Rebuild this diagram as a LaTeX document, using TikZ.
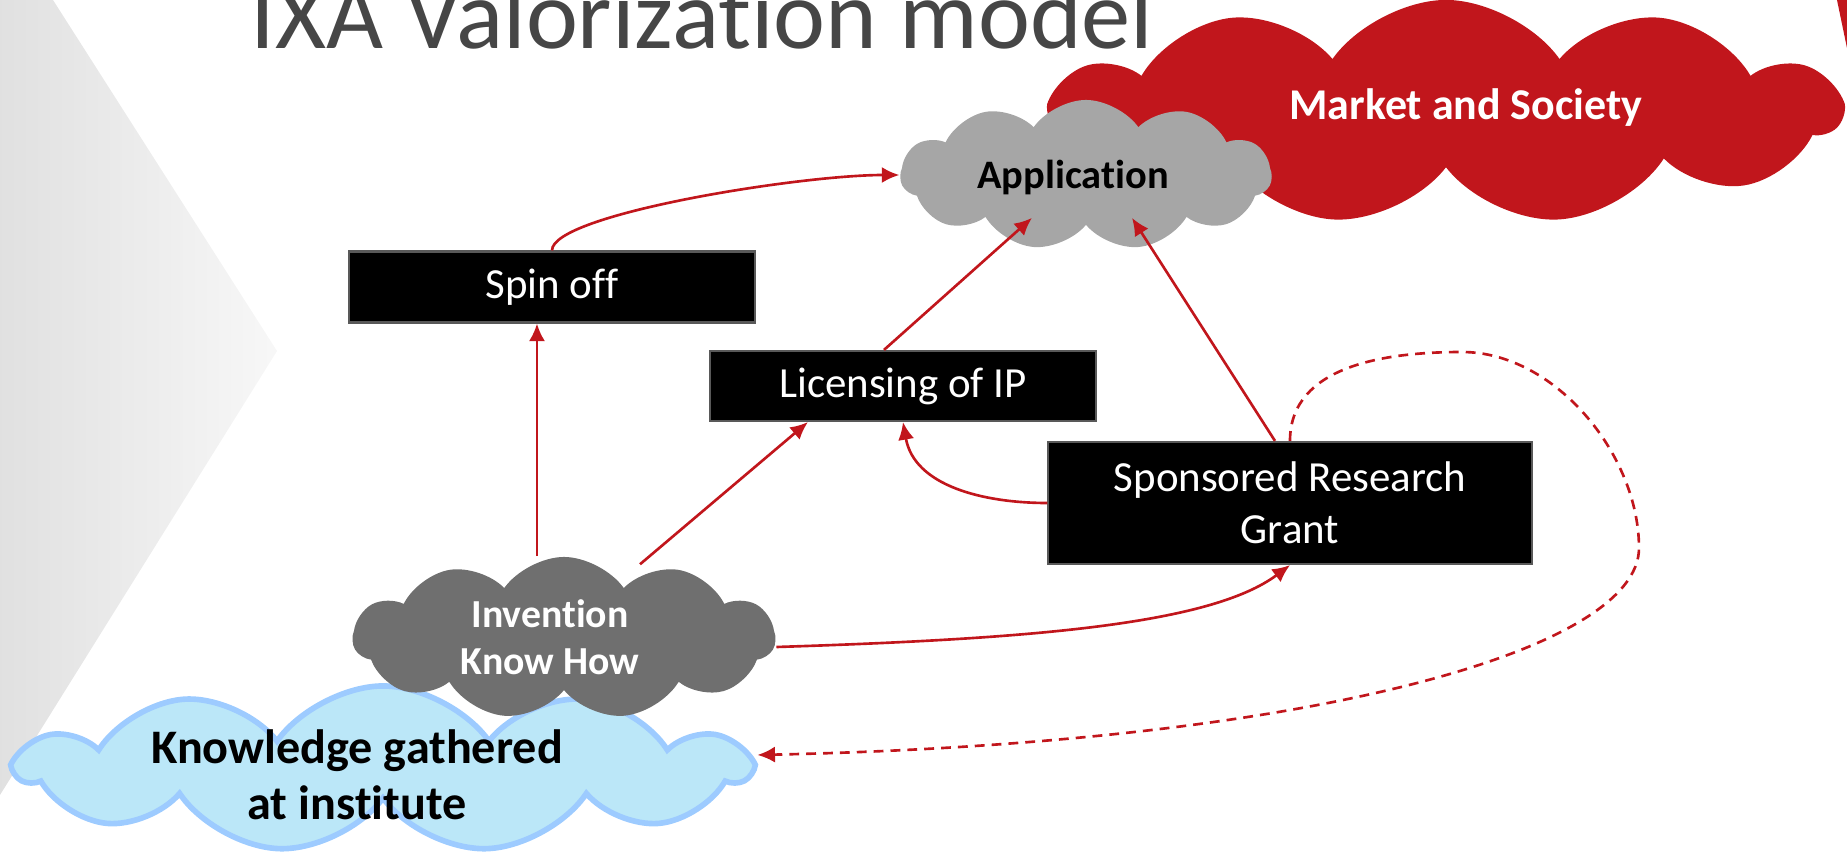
\documentclass[tikz,border=0pt]{standalone}
\usepackage{fontspec}
\setmainfont{Carlito}[Ligatures=CommonOff]
\usetikzlibrary{shapes.symbols,arrows.meta}
\definecolor{ixared}{HTML}{C1161C}
\definecolor{applgray}{HTML}{A6A6A6}
\definecolor{invgray}{HTML}{6F6F6F}
\definecolor{knowfill}{HTML}{BBE7F8}
\definecolor{knowline}{HTML}{9DCBFF}
\definecolor{titlegray}{HTML}{464646}
\tikzset{box/.style={draw=black!65, fill=black, text=white, line width=0.6pt, inner sep=0pt, align=center, font=\fontsize{12.2}{14.8}\selectfont},
  puff/.style={cloud, cloud puffs=11, cloud puff arc=110, cloud ignores aspect, inner sep=0pt},
  cloudtext/.style={inner sep=0pt, align=center},
  line/.style={draw=ixared, line width=0.75pt, -{Latex[length=5pt,width=4.6pt]}}}

\begin{document}
\begin{tikzpicture}[x=0.01cm,y=0.01cm]
    \useasboundingbox (0,0) rectangle (1847,-867);
    \clip (0,0) rectangle (1847,-867);
    % slide decoration
    \shade[left color=black!12, right color=black!3] (0,0) -- (53,0) -- (277,-351) -- (0,-795) -- cycle;
    \fill[ixared] (1837,0) -- (1847,0) -- (1847,-48) -- cycle;
    \node[anchor=base west, inner sep=0pt, text=titlegray, font=\fontsize{28}{28}\selectfont] (title) at (250,-49) {IXA Valorization model};

    % clouds
    \node[puff, fill=ixared, minimum width=7.89cm, minimum height=2.24cm] (market) at (1446,-112) {};
    \node[cloudtext, text=white, font=\bfseries\fontsize{12.5}{15}\selectfont] (markettext) at (1466,-108) {Market and Society};
    \node[puff, fill=applgray, minimum width=3.71cm, minimum height=1.5cm] (application) at (1086,-175) {};
    \node[cloudtext, font=\bfseries\fontsize{11.5}{13}\selectfont] (applicationtext) at (1073,-177) {Application};
    \node[puff, fill=knowfill, draw=knowline, line width=1.6pt, minimum width=7.3cm, minimum height=1.66cm] (knowledge) at (383,-769) {};
    \node[cloudtext, font=\bfseries\fontsize{13.7}{16}\selectfont] (knowledgetext) at (357,-775) {Knowledge gathered\\at institute};
    \node[puff, fill=invgray, minimum width=4.22cm, minimum height=1.62cm] (invention) at (564,-638) {};
    \node[cloudtext, text=white, font=\bfseries\fontsize{11.3}{13.3}\selectfont] (inventiontext) at (550,-637) {Invention\\Know How};

    % boxes
    \node[box, minimum width=4.06cm, minimum height=0.71cm] (spinoff) at (552,-287) {Spin off};
    \node[box, minimum width=3.85cm, minimum height=0.7cm] (licensing) at (903,-386) {Licensing of IP};
    \node[box, minimum width=4.83cm, minimum height=1.22cm] (sponsored) at (1290,-503) {Sponsored Research\\Grant};

    % connectors
    \coordinate (invtop) at ([xshift=-0.27cm]invention.north);
    \draw[line] (invtop) -- (invtop |- spinoff.south);
    \draw[line] ([xshift=0.76cm,yshift=-0.08cm]invention.north) -- ([xshift=-0.95cm]licensing.south);
    \draw[line] ([xshift=-0.19cm]licensing.north) -- ([xshift=-0.54cm,yshift=0.08cm]application.south);
    \draw[line] ([xshift=-0.15cm]sponsored.north) -- ([xshift=0.46cm,yshift=0.08cm]application.south);
    \draw[line] (spinoff.north) .. controls +(0,36) and +(-100,0) .. (application.west);
    \draw[line] (sponsored.west) to[out=180,in=-80] (licensing.south);
    \draw[line] ([yshift=-0.09cm]invention.east) .. controls +(250,8) and +(-80,-60) .. (sponsored.south);
    \coordinate (looptop) at (1462,-352);
    \coordinate (loopright) at (1639,-548);
    \draw[line, dash pattern=on 2.8pt off 2pt] (sponsored.north) to[out=90,in=180] (looptop) to[out=0,in=90,looseness=0.9] (loopright) .. controls +(0,-102) and +(555,12) .. ([yshift=0.14cm]knowledge.east);
\end{tikzpicture}
\end{document}
